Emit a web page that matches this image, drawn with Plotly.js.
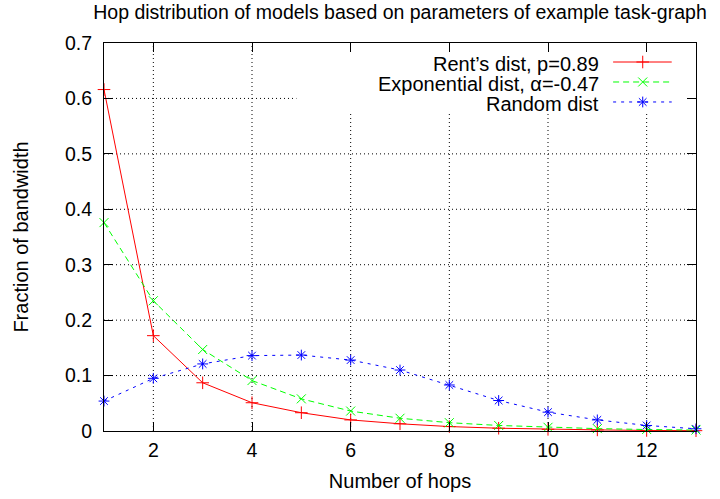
<!DOCTYPE html>
<html><head><meta charset="utf-8">
<script src="https://cdn.plot.ly/plotly-3.0.1.min.js"></script>
<style>body{margin:0;background:#fff}#c{width:720px;height:499px}</style>
</head><body><div id="c"></div>
<script>
const hops = [1,2,3,4,5,6,7,8,9,10,11,12,13];
const rentDist = [0.616,0.172,0.087,0.051,0.033,0.020,0.013,0.008,0.005,0.003,0.002,0.001,0.0006];
const expDist = [0.376,0.235,0.147,0.091,0.058,0.036,0.023,0.015,0.010,0.0067,0.0043,0.0027,0.0017];
const randDist = [0.054,0.095,0.121,0.136,0.137,0.128,0.110,0.083,0.055,0.034,0.020,0.010,0.004];
const seriesNames = ["Rent\u2019s dist, p=0.89","Exponential dist, \u03b1=-0.47","Random dist"];
const xTicks = [2,4,6,8,10,12];
const yTicks = [0,0.1,0.2,0.3,0.4,0.5,0.6,0.7];

const FONT = "Liberation Sans, Arial, Helvetica, sans-serif";
const X_RANGE = [1,13], Y_RANGE = [0,0.7];
// opaque key area (gnuplot style): grid is hidden behind it
const KEY_X0 = 4.9, KEY_Y0 = 0.575;

const styles = [
  {color:"#ff0000", dash:"solid", symbol:"cross-thin-open"},
  {color:"#00ff00", dash:"6px,4px", symbol:"x-thin-open"},
  {color:"#0000ff", dash:"3px,5px", symbol:"asterisk-open"}
];
const series = [rentDist, expDist, randDist];
const traces = series.map((ys,i)=>({
  x:hops, y:ys, type:"scatter", mode:"lines+markers", name:seriesNames[i],
  line:{color:styles[i].color, width:1, dash:styles[i].dash},
  marker:{symbol:styles[i].symbol, size:9, color:styles[i].color, line:{color:styles[i].color, width:1}},
  showlegend:false, cliponaxis:false
}));
// legend samples on a hidden overlay axis
const legY = [0.951, 0.8995, 0.848];
series.forEach((ys,i)=>{
  traces.push({x:[0.86,0.959], y:[legY[i],legY[i]], xaxis:"x2", yaxis:"y2", type:"scatter", mode:"lines",
    line:{color:styles[i].color, width:1, dash:styles[i].dash}, showlegend:false, hoverinfo:"skip"});
  traces.push({x:[0.91], y:[legY[i]], xaxis:"x2", yaxis:"y2", type:"scatter", mode:"markers",
    marker:{symbol:styles[i].symbol, size:9, color:styles[i].color, line:{color:styles[i].color, width:1}},
    showlegend:false, hoverinfo:"skip"});
});
const ann = seriesNames.map((t,i)=>({xref:"paper", yref:"paper", x:0.8395, y:legY[i], xanchor:"right", yanchor:"middle",
  yshift:-2, text:t, showarrow:false, font:{family:FONT, size:20, color:"#000"}}));

// dotted grid as shapes so the key area can interrupt it
const gridLine = {color:"#000", width:1, dash:"1px,3px"};
const shapes = [];
xTicks.forEach(v=>{
  shapes.push({type:"line", xref:"x", yref:"y", x0:v, x1:v, y0:Y_RANGE[0], y1:(v>=KEY_X0?KEY_Y0:Y_RANGE[1]), line:gridLine, layer:"below"});
});
yTicks.filter(v=>v>Y_RANGE[0] && v<Y_RANGE[1]).forEach(v=>{
  shapes.push({type:"line", xref:"x", yref:"y", y0:v, y1:v, x0:X_RANGE[0], x1:(v>=KEY_Y0?KEY_X0:X_RANGE[1]), line:gridLine, layer:"below"});
});

const layout = {
  width:720, height:499,
  margin:{l:104, r:24, t:43, b:68},
  paper_bgcolor:"#fff", plot_bgcolor:"#fff",
  font:{family:FONT, size:20, color:"#000"},
  title:{text:"Hop distribution of models based on parameters of example task-graph",
    font:{family:FONT, size:19.5, color:"#000"}, x:0.5, xref:"paper", y:0.976, yref:"container", yanchor:"middle"},
  xaxis:{range:X_RANGE, tickvals:xTicks, ticktext:xTicks.map(String), ticks:"inside", ticklen:9, tickcolor:"#000",
    showline:true, linecolor:"#000", linewidth:1, mirror:"ticks", showgrid:false, zeroline:false, ticklabelstandoff:2,
    title:{text:"Number of hops", font:{family:FONT, size:20}, standoff:13}, tickfont:{size:19.5}},
  yaxis:{range:Y_RANGE, tickvals:yTicks, ticktext:yTicks.map(v=>String(v)), ticks:"inside", ticklen:9, tickcolor:"#000",
    showline:true, linecolor:"#000", linewidth:1, mirror:"ticks", showgrid:false, zeroline:false, ticklabelstandoff:7,
    title:{text:"Fraction of bandwidth", font:{family:FONT, size:20}, standoff:30}, tickfont:{size:19.5}},
  xaxis2:{range:[0,1], overlaying:"x", visible:false, fixedrange:true},
  yaxis2:{range:[0,1], overlaying:"y", visible:false, fixedrange:true},
  shapes:shapes,
  annotations:ann,
  showlegend:false
};
Plotly.newPlot("c", traces, layout, {staticPlot:true});
</script></body></html>
